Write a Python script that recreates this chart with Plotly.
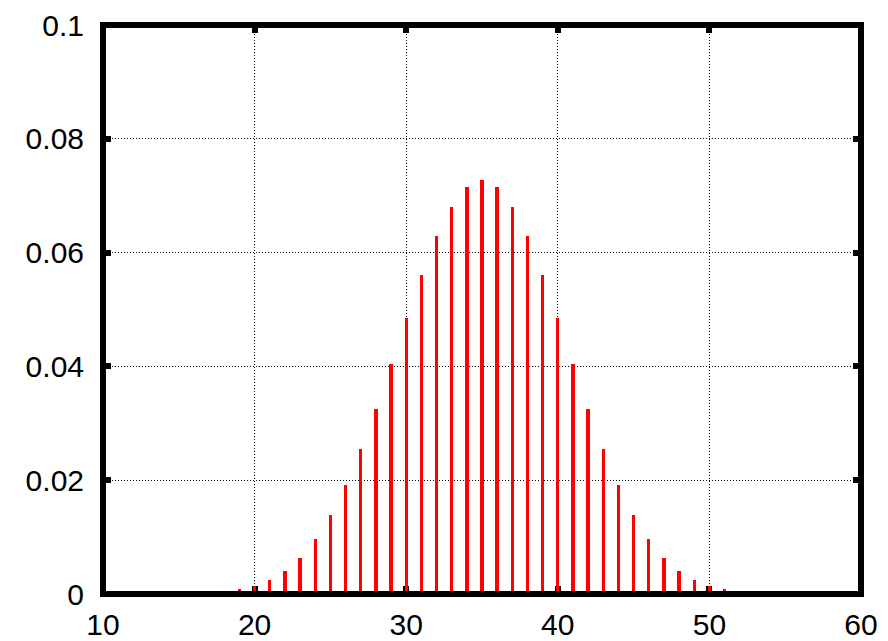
import plotly.graph_objects as go

sums = list(range(18, 53))
prob = [0.0004, 0.0008, 0.0014, 0.0025, 0.0041, 0.0064, 0.0096, 0.0138, 0.0191,
        0.0254, 0.0326, 0.0405, 0.0485, 0.0561, 0.0629, 0.0681, 0.0715, 0.0727,
        0.0715, 0.0681, 0.0629, 0.0561, 0.0485, 0.0405, 0.0326, 0.0254, 0.0191,
        0.0138, 0.0096, 0.0064, 0.0041, 0.0025, 0.0014, 0.0008, 0.0004]

x_ticks = [10, 20, 30, 40, 50, 60]
y_ticks = [0, 0.02, 0.04, 0.06, 0.08, 0.1]
y_labels = ["0", "0.02", "0.04", "0.06", "0.08", "0.1"]

fig = go.Figure()
fig.add_trace(go.Bar(x=sums, y=prob, width=0.22, marker=dict(color="#ff0000", line=dict(width=0)),
                     showlegend=False))

axis_common = dict(
    showline=False, zeroline=False, showgrid=True, automargin=False,
    gridcolor="black", gridwidth=1, griddash="1px,2px",
    ticks="inside", ticklen=8, tickwidth=6, tickcolor="black",
    mirror="ticks", layer="below traces",
    tickfont=dict(family="Liberation Sans, Arial", size=30, color="black"),
)

fig.update_layout(
    width=880, height=633,
    margin=dict(l=95, r=27, t=17, b=47),
    paper_bgcolor="white", plot_bgcolor="white",
    bargap=0,
    xaxis=dict(range=[10, 60], tickvals=x_ticks, ticktext=[str(v) for v in x_ticks],
               ticklabelstandoff=10, **axis_common),
    yaxis=dict(range=[0, 0.1], tickvals=y_ticks, ticktext=y_labels,
               ticklabelstandoff=18, **axis_common),
    shapes=[dict(type="rect", xref="paper", yref="paper", x0=0, x1=1, y0=0, y1=1,
                 line=dict(color="black", width=6), layer="above")],
)

fig.write_html("out.html")
